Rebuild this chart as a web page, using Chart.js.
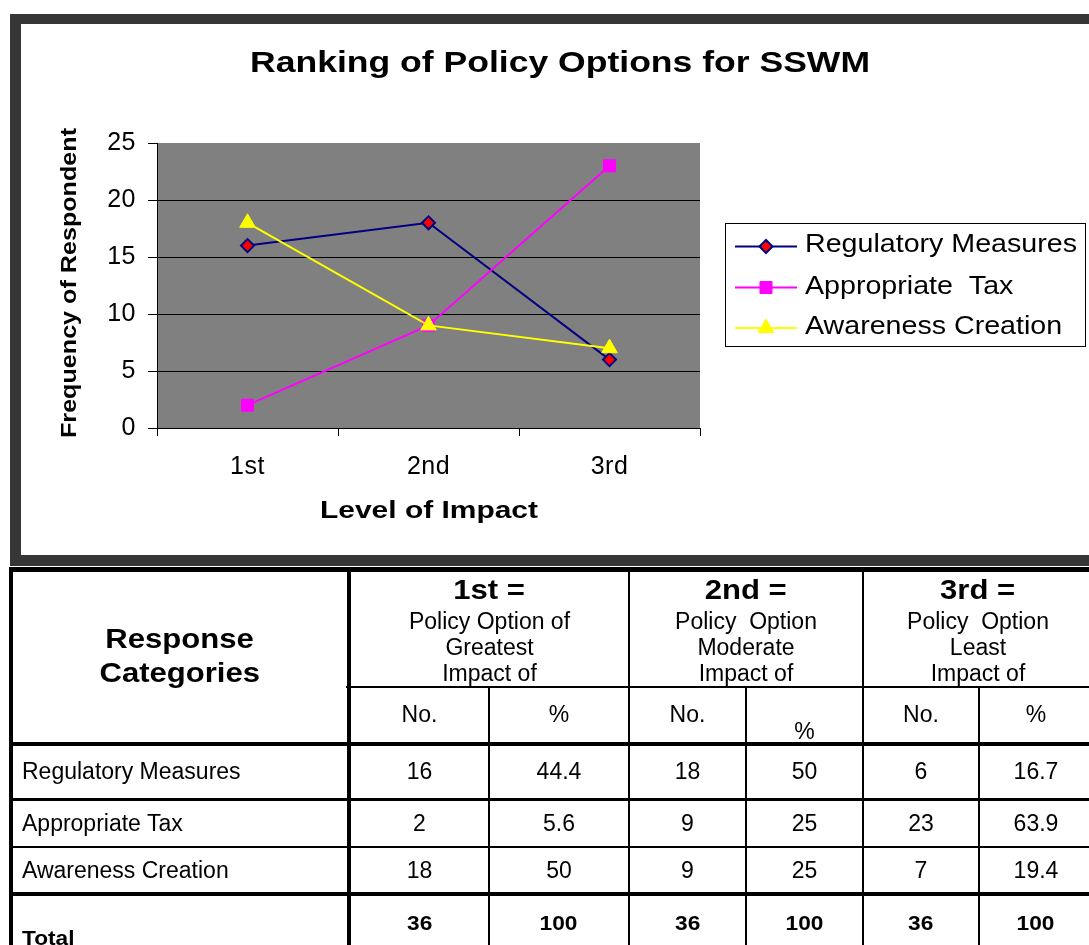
<!DOCTYPE html>
<html>
<head>
<meta charset="utf-8">
<script src="https://cdn.jsdelivr.net/npm/chart.js@4/dist/chart.umd.min.js"></script>
<style>
html,body{margin:0;padding:0;background:#fff;width:1089px;height:945px;overflow:hidden;font-family:"Liberation Sans",Arial,sans-serif;color:#000;}
#frame{position:absolute;left:10px;top:14px;width:1100px;height:531px;border-style:solid;border-color:#363636;border-width:10px 11px 11px 11px;background:#fff;}
#wrap{position:absolute;left:0;top:0;width:1068px;height:531px;}
#tbl{position:absolute;left:0;top:0;width:1089px;height:945px;}
.ln{position:absolute;background:#000;}
.cell{position:absolute;display:flex;align-items:center;justify-content:center;text-align:center;font-size:23px;white-space:pre;}
.cell span{display:inline-block;}
</style>
</head>
<body>
<div id="frame"><div id="wrap"><canvas id="c" width="1068" height="531"></canvas></div></div>
<div id="tbl"></div>
<script>
// ---------- data ----------
const categories = ['1st', '2nd', '3rd'];
const seriesNames = ['Regulatory Measures', 'Appropriate Tax', 'Awareness Creation'];
const legendLabels = ['Regulatory Measures', 'Appropriate  Tax', 'Awareness Creation'];
const regulatoryNo = [16, 18, 6];
const taxNo = [2, 9, 23];
const awarenessNo = [18, 9, 7];
const regulatoryPct = [44.4, 50, 16.7];
const taxPct = [5.6, 25, 63.9];
const awarenessPct = [50, 25, 19.4];
const totalNo = [36, 36, 36];
const totalPct = [100, 100, 100];
const yMin = 0, yMax = 25, yStep = 5;
const chartTitle = 'Ranking of Policy Options for SSWM';
const xTitle = 'Level of Impact';
const yTitle = 'Frequency of Respondent';
const groupHeads = ['1st =', '2nd =', '3rd ='];
const groupSubs = [['Policy Option of', 'Greatest', 'Impact of'], ['Policy  Option', 'Moderate', 'Impact of'], ['Policy  Option', 'Least', 'Impact of']];

// ---------- chart ----------
const FONT = '"Liberation Sans", Arial, sans-serif';
const styles = [
  {line: '#000080', fill: '#FF0000', border: '#000080', style: 'rectRot', r: 6.5, bw: 2},
  {line: '#FF00FF', fill: '#FF00FF', border: '#FF00FF', style: 'rect', r: 8.5, bw: 1},
  {line: '#FFFF00', fill: '#FFFF00', border: '#FFFF00', style: 'triangle', r: 9, bw: 1}
];

function stretchText(ctx, text, x, y, font, targetW, rot, align) {
  ctx.save();
  ctx.font = font; ctx.fillStyle = '#000';
  ctx.textAlign = align || 'center'; ctx.textBaseline = 'middle';
  const w = ctx.measureText(text).width;
  ctx.translate(x, y); ctx.rotate(rot || 0); ctx.scale(targetW / w, 1);
  ctx.fillText(text, 0, 0);
  ctx.restore();
}

const decor = {
  id: 'decor',
  beforeDraw(chart) {
    const {ctx, chartArea: a} = chart;
    ctx.save();
    ctx.fillStyle = '#808080';
    ctx.fillRect(a.left, a.top, a.right - a.left, a.bottom - a.top);
    ctx.restore();
    ctx.letterSpacing = '0.5px';
  },
  afterDraw(chart) {
    const ctx = chart.ctx;
    ctx.letterSpacing = '0px';
    stretchText(ctx, chartTitle, 539, 40, 'bold 30px ' + FONT, 620, 0);
    stretchText(ctx, xTitle, 408, 487, 'bold 24px ' + FONT, 218, 0);
    stretchText(ctx, yTitle, 49, 259, 'bold 22px ' + FONT, 310, -Math.PI / 2);
    // legend
    ctx.save();
    ctx.strokeStyle = '#000'; ctx.lineWidth = 1;
    ctx.strokeRect(704.5, 199.5, 360, 123);
    ctx.restore();
    const ys = [222.5, 263.5, 304];
    const ty = [220.5, 262.5, 302.5];
    let sx = null;
    legendLabels.forEach((lab, i) => {
      const s = styles[i];
      ctx.save();
      ctx.strokeStyle = s.line; ctx.lineWidth = 2;
      ctx.beginPath(); ctx.moveTo(714, ys[i]); ctx.lineTo(776, ys[i]); ctx.stroke();
      ctx.fillStyle = s.fill; ctx.strokeStyle = s.border; ctx.lineWidth = s.bw;
      Chart.helpers.drawPoint(ctx, {pointStyle: s.style, radius: s.r, borderWidth: s.bw, rotation: 0}, 745, ys[i]);
      ctx.restore();
      ctx.save();
      ctx.font = '26px ' + FONT;
      if (sx === null) sx = 272 / ctx.measureText(legendLabels[0]).width;
      ctx.fillStyle = '#000'; ctx.textAlign = 'left'; ctx.textBaseline = 'middle';
      ctx.translate(784, ty[i]); ctx.scale(sx, 1);
      ctx.fillText(lab, 0, 0);
      ctx.restore();
    });
  }
};

const seriesData = [regulatoryNo, taxNo, awarenessNo];
const datasets = seriesNames.map((name, i) => ({
  label: name,
  data: seriesData[i],
  borderColor: styles[i].line,
  backgroundColor: styles[i].fill,
  pointBackgroundColor: styles[i].fill,
  pointBorderColor: styles[i].border,
  pointBorderWidth: styles[i].bw,
  pointStyle: styles[i].style,
  pointRadius: styles[i].r,
  borderWidth: 2,
  tension: 0,
  fill: false,
  order: 2 - i
}));

new Chart(document.getElementById('c'), {
  type: 'line',
  data: {labels: categories, datasets},
  options: {
    responsive: false, animation: false, devicePixelRatio: 1,
    layout: {padding: {left: 0, top: 119, right: 389, bottom: 0}},
    plugins: {legend: {display: false}, tooltip: {enabled: false}, title: {display: false}},
    scales: {
      x: {
        offset: true,
        grid: {offset: true, drawOnChartArea: false, drawTicks: true, tickLength: 8, color: '#000', tickColor: '#000'},
        border: {display: true, color: '#000', width: 1},
        ticks: {color: '#000', font: {family: FONT, size: 25}, padding: 16},
        afterFit(s) { s.height = 127; }
      },
      y: {
        min: yMin, max: yMax,
        ticks: {stepSize: yStep, color: '#000', font: {family: FONT, size: 25}, padding: 12},
        grid: {color: c => (c.tick && c.tick.value === yMax) ? 'rgba(0,0,0,0)' : '#000', tickColor: '#000', tickLength: 9, lineWidth: 1},
        border: {display: true, color: '#000', width: 1},
        afterFit(s) { s.width = 136; }
      }
    }
  },
  plugins: [decor]
});

// ---------- table ----------
const T = document.getElementById('tbl');
function ln(x, y, w, h) { const d = document.createElement('div'); d.className = 'ln'; Object.assign(d.style, {left: x + 'px', top: y + 'px', width: w + 'px', height: h + 'px'}); T.appendChild(d); }
function cell(x, y, w, h, text, st, scale) {
  const d = document.createElement('div'); d.className = 'cell';
  Object.assign(d.style, {left: x + 'px', top: y + 'px', width: w + 'px', height: h + 'px'}, st || {});
  const s = document.createElement('span'); s.textContent = text;
  if (scale) { s.style.transform = 'scaleX(' + scale + ')'; s.style.transformOrigin = (st && st.justifyContent === 'flex-start') ? 'left center' : 'center center'; }
  d.appendChild(s); T.appendChild(d); return d;
}
// lines
ln(9, 567, 1090, 5);
ln(346, 686, 750, 2);
ln(9, 742, 1090, 4);
ln(9, 798, 1090, 3);
ln(9, 846, 1090, 2);
ln(9, 892, 1090, 4);
ln(9, 567, 4, 380);
ln(347, 567, 4, 380);
ln(488, 687, 2, 260);
ln(628, 567, 2, 380);
ln(745, 687, 2, 260);
ln(862, 567, 2, 380);
ln(978, 687, 2, 260);

const colX = [[351, 488], [490, 628], [630, 745], [747, 862], [864, 978], [980, 1092]];
const groupX = [[351, 628], [630, 862], [864, 1092]];
const boldBig = {fontWeight: 'bold', fontSize: '27px'};
// response categories head
cell(13, 622, 334, 34, 'Response', boldBig, 1.15);
cell(13, 656, 334, 34, 'Categories', boldBig, 1.15);
// group heads
groupX.forEach((g, i) => {
  cell(g[0], 575, g[1] - g[0], 30, groupHeads[i], boldBig, 1.15);
  groupSubs[i].forEach((t, j) => cell(g[0], 608 + j * 26, g[1] - g[0], 26, t, {}));
});
// sub heads
colX.forEach((c, i) => {
  const isPct = i % 2 === 1;
  const st = (i === 3) ? {alignItems: 'flex-end', height: '57px'} : {};
  cell(c[0], 688, c[1] - c[0], 52, isPct ? '%' : 'No.', st);
});
// data rows
const rowY = [[745, 798], [801, 846], [848, 892]];
const pctData = [regulatoryPct, taxPct, awarenessPct];
seriesNames.forEach((name, r) => {
  const [y0, y1] = rowY[r];
  cell(22, y0, 320, y1 - y0, name, {justifyContent: 'flex-start'});
  for (let g = 0; g < 3; g++) {
    cell(colX[2 * g][0], y0, colX[2 * g][1] - colX[2 * g][0], y1 - y0, String(seriesData[r][g]));
    cell(colX[2 * g + 1][0], y0, colX[2 * g + 1][1] - colX[2 * g + 1][0], y1 - y0, String(pctData[r][g]));
  }
});
// total row
const boldSm = {fontWeight: 'bold', fontSize: '21px'};
cell(22, 924, 320, 28, 'Total', Object.assign({justifyContent: 'flex-start'}, boldSm), 1.08);
for (let g = 0; g < 3; g++) {
  cell(colX[2 * g][0], 909, colX[2 * g][1] - colX[2 * g][0], 28, String(totalNo[g]), boldSm, 1.08);
  cell(colX[2 * g + 1][0], 909, colX[2 * g + 1][1] - colX[2 * g + 1][0], 28, String(totalPct[g]), boldSm, 1.08);
}
</script>
</body>
</html>
